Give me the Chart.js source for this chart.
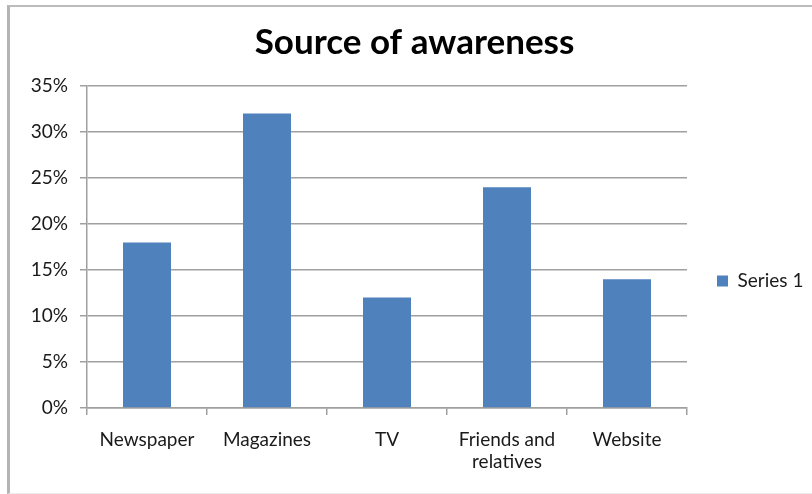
<!DOCTYPE html>
<html lang="en">
<head>
<meta charset="UTF-8" />
<title>Source of awareness</title>
<style>
  html, body {
    margin: 0;
    padding: 0;
    background: #fff;
    overflow: hidden;
  }
  .frame {
    position: absolute;
    left: 7px;
    top: 5px;
    width: 820px;
    height: 486px;
    border-left: 3px solid #b4b4b4;
    border-top: 2px solid #bcbcbc;
    border-bottom: 1px solid #ececec;
  }
  canvas {
    position: absolute;
    left: 0;
    top: 0;
  }
</style>
</head>
<body>

<div class="frame"></div>
<canvas id="awareness" width="812" height="494"></canvas>

<script src="https://cdn.jsdelivr.net/npm/chart.js"></script>
<script>
  // data
  const categories = ['Newspaper', 'Magazines', 'TV', ['Friends and', 'relatives'], 'Website'];
  const seriesName = 'Series 1';
  const seriesValues = [18, 32, 12, 24, 14];
  const yTickLabels = ['0%', '5%', '10%', '15%', '20%', '25%', '30%', '35%'];

  const barColor = '#4f81bd';
  const gridColor = '#a0a0a0';
  const textColor = '#1a1a1a';
  const fontFamily = 'Lato, "Open Sans", sans-serif';

  const ctx = document.getElementById('awareness').getContext('2d');
  const chart = new Chart(ctx, {
    type: 'bar',
    data: {
      labels: categories,
      datasets: [{
        label: seriesName,
        data: seriesValues,
        backgroundColor: barColor,
        borderWidth: 0,
        categoryPercentage: 1,
        barPercentage: 0.4
      }]
    },
    options: {
      responsive: false,
      animation: false,
      layout: {
        padding: { left: 17, right: 0, top: 0, bottom: 0 }
      },
      scales: {
        x: {
          offset: true,
          grid: {
            offset: true,
            drawOnChartArea: false,
            tickLength: 7,
            color: gridColor,
            lineWidth: 1.5
          },
          border: { color: gridColor, width: 1.5 },
          ticks: {
            color: textColor,
            font: { family: fontFamily, size: 19 },
            padding: 13,
            maxRotation: 0,
            autoSkip: false
          },
          afterFit: (scale) => { scale.height = 86; }
        },
        y: {
          min: 0,
          max: 35,
          grid: {
            tickLength: 7,
            color: gridColor,
            lineWidth: 1.5
          },
          border: { color: gridColor, width: 1.5 },
          ticks: {
            stepSize: 5,
            color: textColor,
            font: { family: fontFamily, size: 19 },
            padding: 12,
            callback: (value, i) => yTickLabels[i]
          },
          afterFit: (scale) => { scale.width = 70; }
        }
      },
      plugins: {
        title: {
          display: true,
          text: 'Source of awareness',
          color: '#000',
          font: { family: fontFamily, size: 35, weight: 'bold' },
          padding: { top: 22, bottom: 22 }
        },
        legend: {
          position: 'right',
          maxWidth: 125,
          // empty title only pushes the legend item down
          title: {
            display: true,
            text: '',
            font: { size: 12 },
            padding: { top: 0, bottom: 53.6 }
          },
          labels: {
            boxWidth: 11,
            boxHeight: 11,
            padding: 30,
            color: textColor,
            font: { family: fontFamily, size: 19 }
          }
        },
        tooltip: { enabled: false }
      }
    }
  });
</script>

</body>
</html>
